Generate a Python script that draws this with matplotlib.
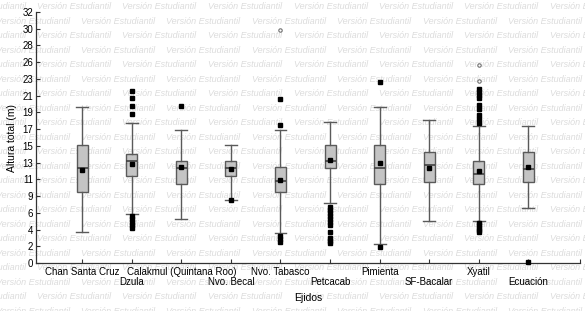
import matplotlib
matplotlib.use("Agg")
import matplotlib.pyplot as plt
import numpy as np

plt.rcParams['font.family'] = ['Liberation Sans', 'DejaVu Sans']

ejidos = ["Chan Santa Cruz", "Dzula", "Calakmul (Quintana Roo)", "Nvo. Becal",
          "Nvo. Tabasco", "Petcacab", "Pimienta", "SF-Bacalar", "Xyatil", "Ecuación"]
q1 = [9.1, 11.1, 10.1, 11.1, 9.0, 12.1, 10.1, 10.3, 10.1, 10.3]
mediana = [12.1, 13.0, 12.1, 12.1, 10.4, 13.0, 12.1, 12.5, 11.4, 11.95]
q3 = [15.0, 13.9, 13.0, 13.0, 12.2, 15.0, 15.0, 14.1, 13.0, 14.2]
media = [11.8, 12.6, 12.3, 11.95, 10.6, 13.1, 12.7, 12.1, 11.7, 12.2]
bigote_inf = [3.9, 6.2, 5.6, 8.0, 3.8, 7.6, 2.4, 5.3, 5.3, 7.0]
bigote_sup = [19.9, 17.9, 17.0, 15.0, 17.0, 18.0, 19.9, 18.2, 17.5, 17.5]
atipicos = [
    [],
    [21.9, 21.0, 20.0, 19.0, 6.0, 5.6, 5.2, 4.8, 4.5],
    [20.0],
    [8.0],
    [20.9, 17.6, 3.4, 3.0, 2.7],
    [7.2, 6.8, 6.4, 6.0, 5.6, 5.2, 4.8, 4.0, 3.2, 2.8, 2.5],
    [23.1, 2.0],
    [],
    [22.2, 21.8, 21.4, 21.0, 20.1, 19.6, 18.9, 18.4, 17.9,
     5.1, 4.8, 4.5, 4.2, 3.9],
    [0.1],
]
extremos = [[], [], [], [], [29.7], [], [], [], [25.3, 23.2], []]
yticks_lbl = ["0", "2", "4", "6", "9", "11", "13", "15", "17", "19", "21", "23",
              "26", "28", "30", "32"]

fig = plt.figure(figsize=(5.85, 3.11), dpi=100)

# marca de agua
for k in range(22):
    y = 1 - (6.7 + 14.5 * k) / 311
    x0 = 37 if k % 2 == 0 else 81
    for j in range(-1, 7):
        fig.text((x0 + 85.5 * j) / 585, y, "Versión Estudiantil", fontsize=6.5,
                 style="italic", color="#dcdcdc", va="center", ha="left", zorder=-5)

ax = fig.add_axes([36 / 585, 1 - 263 / 311, 544 / 585, 251 / 311])
ax.set_facecolor("none")

stats = []
for i in range(len(ejidos)):
    stats.append(dict(med=mediana[i], q1=q1[i], q3=q3[i], mean=media[i],
                      whislo=bigote_inf[i], whishi=bigote_sup[i], fliers=atipicos[i]))

pos = np.arange(1, len(ejidos) + 1)
bp = ax.bxp(stats, positions=pos, widths=0.22, showmeans=True, patch_artist=True,
            boxprops=dict(facecolor="#c4c4c4", edgecolor="#5a5a5a", linewidth=1),
            medianprops=dict(color="#404040", linewidth=1.2),
            whiskerprops=dict(color="#5a5a5a", linewidth=1),
            capprops=dict(color="#5a5a5a", linewidth=1),
            capwidths=0.24,
            meanprops=dict(marker="s", markerfacecolor="black", markeredgecolor="black", markersize=3),
            flierprops=dict(marker="s", markerfacecolor="black", markeredgecolor="black", markersize=2.3))
for f in bp["fliers"]:
    f.set_clip_on(False)
    f.set_zorder(4)

for i, ext in enumerate(extremos):
    if ext:
        ax.scatter([pos[i]] * len(ext), ext, s=6, facecolors="white",
                   edgecolors="#707070", linewidths=0.8, zorder=3)

ax.set_xlim(0.07, 11.04)
ax.set_ylim(0, 32)
ax.set_yticks(np.linspace(0, 32, 16))
ax.set_yticklabels(yticks_lbl, fontsize=7)
lbls = [e if i % 2 == 0 else "\n" + e for i, e in enumerate(ejidos)]
ax.set_xticks(list(pos) + [11.04])
ax.set_xticklabels(lbls + [""], fontsize=7, linespacing=1.0)
ax.tick_params(direction="in", length=3, width=0.8, color="#333333", pad=3)
ax.tick_params(axis="y", pad=2)
for s in ["top", "right"]:
    ax.spines[s].set_visible(False)
for s in ["left", "bottom"]:
    ax.spines[s].set_color("#333333")
    ax.spines[s].set_linewidth(0.9)

ax.set_ylabel("Altura total (m)", fontsize=7.5, labelpad=4)
ax.set_xlabel("Ejidos", fontsize=7.5, labelpad=4)

fig.savefig("out.png", dpi=100)
